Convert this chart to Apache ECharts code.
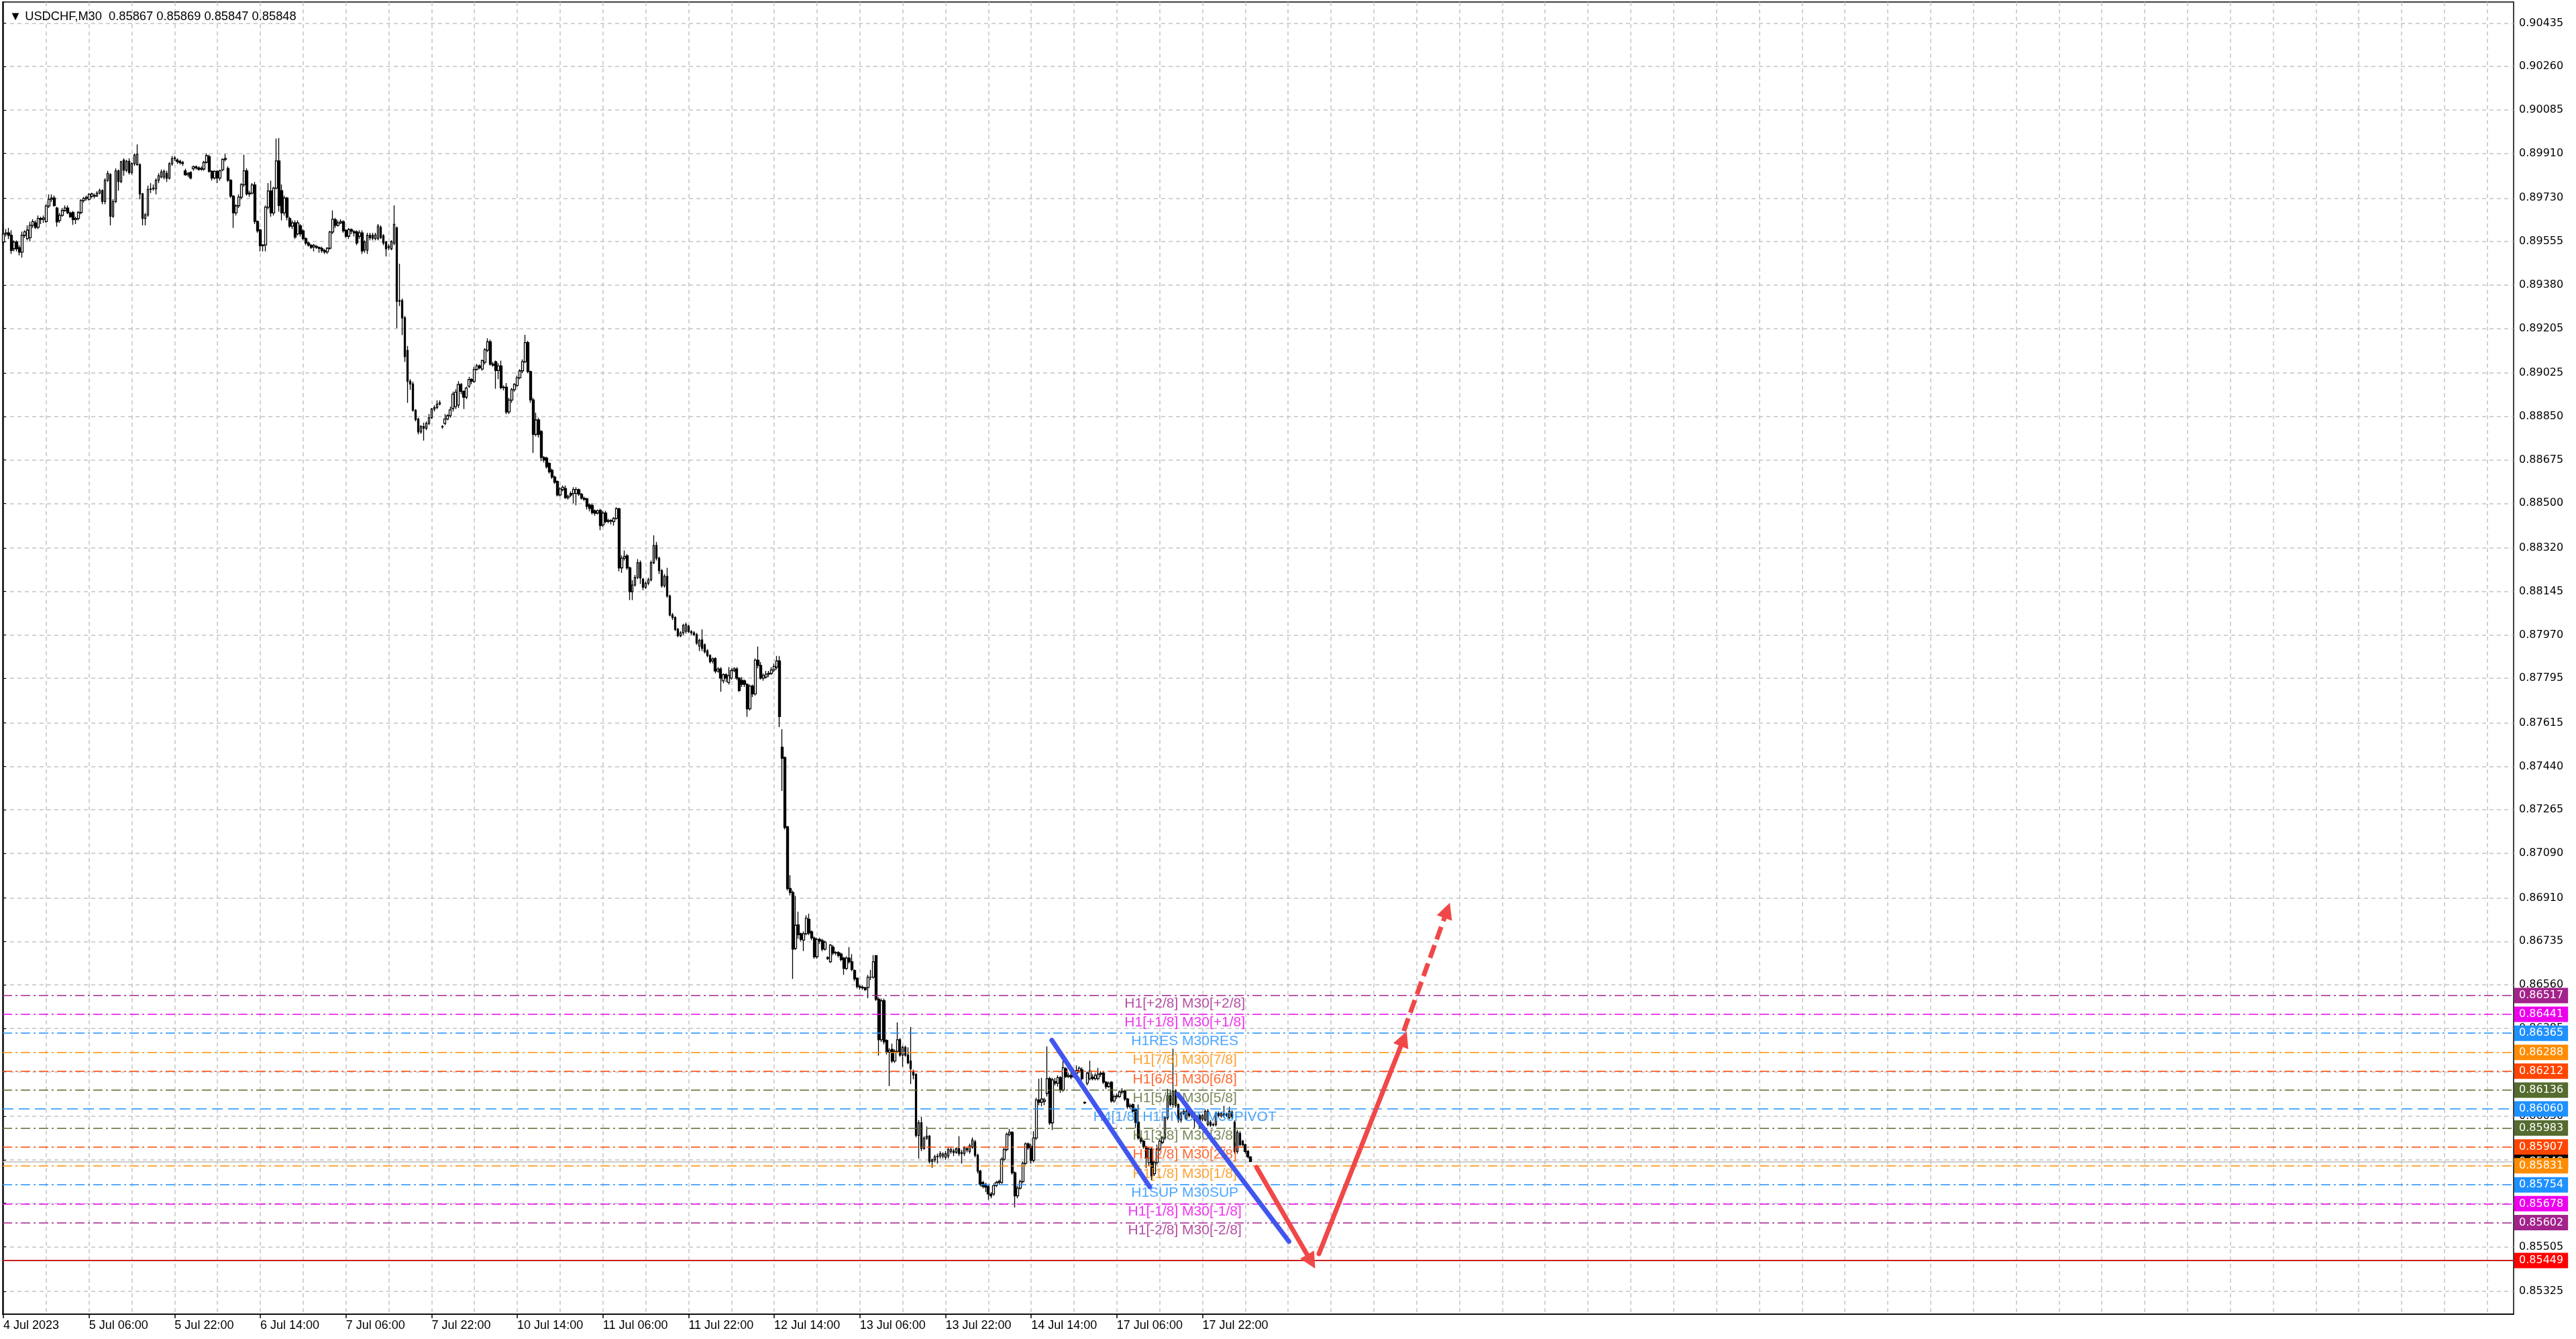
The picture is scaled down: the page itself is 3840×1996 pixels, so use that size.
<!DOCTYPE html>
<html><head><meta charset="utf-8">
<script src="https://cdn.jsdelivr.net/npm/echarts@6/dist/echarts.min.js"></script>
<style>html,body{margin:0;padding:0;background:#fff}#c{width:3840px;height:1996px}</style>
</head><body><div id="c"></div>
<script>
// ---------- DATA ----------
const symbolName = 'USDCHF,M30';
const lastOHLC = ['0.85867', '0.85869', '0.85847', '0.85848'];
const xTickLabels = ['4 Jul 2023','5 Jul 06:00','5 Jul 22:00','6 Jul 14:00','7 Jul 06:00','7 Jul 22:00','10 Jul 14:00','11 Jul 06:00','11 Jul 22:00','12 Jul 14:00','13 Jul 06:00','13 Jul 22:00','14 Jul 14:00','17 Jul 06:00','17 Jul 22:00'];
const yTickLabels = ['0.90435','0.90260','0.90085','0.89910','0.89730','0.89555','0.89380','0.89205','0.89025','0.88850','0.88675','0.88500','0.88320','0.88145','0.87970','0.87795','0.87615','0.87440','0.87265','0.87090','0.86910','0.86735','0.86560','0.86385','0.86210','0.86030','0.85855','0.85680','0.85505','0.85325'];
// M30 bars: [open, close, low, high] in units of 0.00001
const bars = [
[89553,89585,89540,89630],[89585,89590,89575,89605],[89590,89580,89565,89610],[89580,89519,89505,89600],[89526,89553,89515,89560],
[89553,89526,89515,89560],[89530,89512,89499,89540],[89512,89580,89490,89595],[89580,89594,89570,89600],[89567,89601,89560,89620],
[89570,89620,89555,89635],[89620,89635,89610,89645],[89630,89612,89605,89640],[89612,89648,89605,89660],[89648,89644,89625,89655],
[89644,89650,89630,89660],[89635,89698,89630,89705],[89698,89725,89690,89745],[89725,89730,89715,89745],[89730,89700,89695,89740],
[89690,89634,89615,89695],[89640,89660,89630,89670],[89660,89680,89655,89690],[89680,89690,89675,89700],[89690,89670,89665,89700],
[89670,89655,89650,89675],[89672,89643,89622,89678],[89643,89648,89625,89655],[89648,89672,89640,89678],[89672,89720,89665,89725],
[89720,89729,89712,89735],[89729,89733,89720,89740],[89725,89745,89720,89750],[89737,89747,89730,89752],[89740,89738,89730,89748],
[89738,89750,89735,89758],[89750,89760,89745,89768],[89760,89716,89705,89765],[89716,89802,89705,89810],[89802,89829,89795,89840],
[89825,89657,89620,89830],[89657,89716,89650,89725],[89716,89840,89710,89850],[89840,89797,89760,89845],[89797,89876,89790,89880],
[89883,89842,89820,89890],[89842,89878,89835,89885],[89878,89833,89825,89890],[89833,89869,89825,89875],[89869,89903,89860,89910],
[89865,89906,89860,89946],[89865,89747,89725,89870],[89747,89648,89620,89750],[89648,89662,89620,89670],[89662,89765,89655,89780],
[89765,89767,89750,89790],[89767,89770,89760,89785],[89767,89802,89745,89810],[89802,89820,89790,89830],[89815,89835,89810,89845],
[89815,89838,89805,89845],[89830,89810,89795,89840],[89810,89868,89805,89875],[89868,89889,89860,89900],[89889,89892,89880,89900],
[89884,89878,89868,89890],[89878,89873,89865,89885],[89873,89870,89860,89880],[89840,89824,89820,89848],[89824,89830,89815,89835],
[89833,89811,89805,89838],[89848,89856,89840,89862],[89856,89852,89845,89862],[89852,89846,89840,89858],[89846,89850,89840,89858],
[89847,89874,89840,89880],[89874,89901,89870,89910],[89897,89838,89832,89905],[89838,89811,89800,89842],[89811,89838,89805,89842],
[89838,89811,89790,89842],[89811,89840,89800,89845],[89844,89886,89838,89890],[89886,89890,89878,89908],[89849,89802,89795,89858],
[89802,89738,89730,89806],[89738,89670,89610,89742],[89670,89699,89660,89705],[89699,89734,89690,89745],[89734,89784,89725,89790],
[89784,89840,89775,89905],[89840,89747,89740,89850],[89747,89750,89735,89760],[89750,89783,89745,89790],[89783,89636,89625,89795],
[89636,89598,89590,89640],[89602,89538,89515,89605],[89538,89541,89515,89545],[89541,89693,89515,89700],[89693,89759,89685,89790],
[89759,89670,89655,89800],[89670,89770,89660,89775],[89770,89880,89765,89970],[89880,89700,89675,89972],[89760,89670,89640,89785],
[89670,89730,89660,89740],[89730,89653,89640,89735],[89648,89617,89610,89655],[89617,89630,89605,89640],[89630,89573,89565,89640],
[89586,89630,89580,89640],[89618,89586,89575,89625],[89598,89567,89560,89605],[89567,89549,89540,89572],[89549,89540,89535,89555],
[89540,89531,89525,89545],[89533,89540,89515,89545],[89535,89531,89525,89540],[89531,89527,89510,89535],[89527,89518,89510,89535],
[89518,89513,89505,89525],[89513,89528,89505,89532],[89528,89593,89522,89598],[89593,89645,89585,89680],[89643,89620,89610,89650],
[89620,89630,89615,89640],[89630,89635,89625,89645],[89635,89598,89590,89640],[89600,89576,89570,89605],[89576,89603,89565,89610],
[89603,89597,89585,89608],[89595,89590,89575,89600],[89594,89549,89540,89600],[89576,89590,89565,89600],[89590,89517,89505,89600],
[89521,89553,89510,89560],[89520,89580,89505,89590],[89580,89570,89560,89590],[89580,89568,89560,89590],[89567,89581,89560,89590],
[89567,89617,89560,89625],[89612,89571,89565,89620],[89578,89549,89540,89585],[89553,89526,89495,89558],[89530,89536,89520,89545],
[89526,89555,89520,89560],[89548,89624,89540,89700],[89610,89314,89206,89615],[89314,89317,89295,89465],[89317,89247,89178,89325],
[89247,89091,89070,89255],[89116,88992,88905,89134],[88992,88981,88957,89000],[88981,88875,88870,88990],[88875,88838,88830,88880],
[88840,88788,88778,88845],[88788,88810,88780,88815],[88810,88803,88753,88825],[88803,88822,88795,88830],[88822,88845,88815,88860],
[88845,88880,88840,88885],[88880,88886,88870,88895],[88886,88900,88880,88915],[88900,88905,88895,88915],[88810,88808,88800,88815],
[88822,88840,88815,88860],[88840,88853,88835,88860],[88853,88877,88845,88890],[88882,88940,88870,88950],[88889,88948,88880,88960],
[88896,88979,88885,88992],[88979,88951,88940,88985],[88951,88928,88880,88955],[88928,88965,88920,88970],[88972,88999,88965,89010],
[88999,88992,88980,89005],[88992,89040,88985,89050],[89040,89054,89035,89062],[89054,89046,89040,89060],[89041,89075,89035,89080],
[89068,89119,89060,89125],[89117,89151,89110,89165],[89151,89061,89055,89160],[89061,89057,89050,89070],[89071,89035,88962,89075],
[89035,89054,89000,89065],[89054,88966,88960,89075],[88966,88968,88955,88975],[88968,88868,88860,88985],[88868,88916,88860,88925],
[88916,88958,88905,88965],[88958,88979,88950,88985],[88975,89006,88970,89015],[89006,89034,89000,89040],[89034,89071,89025,89080],
[89071,89148,89065,89179],[89148,89031,89025,89155],[89031,88917,88905,89035],[88917,88778,88703,88925],[88778,88836,88770,88865],
[88836,88778,88765,88845],[88790,88685,88670,88795],[88685,88675,88665,88690],[88682,88647,88640,88688],[88661,88627,88620,88665],
[88633,88606,88598,88640],[88606,88585,88578,88612],[88588,88534,88528,88592],[88534,88558,88528,88565],[88555,88565,88548,88572],
[88560,88523,88518,88572],[88523,88528,88515,88535],[88540,88533,88525,88548],[88540,88556,88500,88565],[88540,88556,88492,88565],
[88555,88537,88530,88560],[88537,88521,88515,88542],[88521,88516,88510,88527],[88519,88488,88475,88522],[88494,88480,88468,88500],
[88492,88463,88455,88500],[88470,88460,88450,88475],[88461,88470,88455,88475],[88472,88410,88392,88478],[88413,88461,88405,88470],
[88461,88427,88420,88470],[88427,88431,88420,88438],[88431,88428,88415,88436],[88426,88440,88410,88445],[88440,88478,88435,88485],
[88478,88240,88226,88482],[88240,88279,88220,88290],[88279,88286,88270,88310],[88289,88240,88232,88295],[88240,88144,88110,88245],
[88144,88171,88110,88190],[88171,88202,88165,88212],[88202,88261,88195,88275],[88261,88199,88175,88270],[88194,88162,88150,88200],
[88162,88178,88155,88185],[88178,88192,88170,88200],[88192,88261,88185,88270],[88261,88330,88255,88371],[88330,88279,88270,88345],
[88279,88229,88215,88285],[88229,88168,88160,88235],[88168,88206,88160,88215],[88206,88127,88120,88240],[88127,88050,88045,88132],
[88050,88040,88030,88058],[88040,87992,87985,88045],[87992,87967,87960,87998],[87967,87978,87960,87985],[87978,88008,87970,88015],
[87985,88011,87975,88020],[88005,87983,87978,88010],[87983,87978,87970,87990],[87978,87971,87965,87985],[87971,87937,87930,87978],
[87925,87948,87905,87955],[87950,87916,87905,87992],[87930,87902,87895,87935],[87906,87887,87880,87912],[87887,87862,87855,87892],
[87865,87873,87855,87880],[87875,87824,87815,87880],[87824,87832,87818,87840],[87833,87796,87741,87840],[87785,87810,87775,87815],
[87810,87796,87780,87815],[87778,87806,87770,87840],[87796,87826,87790,87835],[87826,87833,87820,87840],[87833,87796,87788,87840],
[87796,87746,87740,87800],[87787,87771,87760,87800],[87785,87771,87760,87790],[87771,87672,87640,87775],[87672,87764,87665,87770],
[87764,87732,87720,87770],[87732,87868,87725,87875],[87868,87847,87835,87923],[87847,87796,87790,87860],[87796,87806,87785,87815],
[87800,87812,87795,87825],[87812,87815,87800,87825],[87815,87829,87808,87840],[87829,87843,87820,87855],[87840,87865,87830,87885],
[87865,87641,87598,87885],[87517,87473,87341,87590],[87476,87194,87186,87480],[87197,86948,86940,87200],[86948,86932,86920,87002],
[86932,86704,86584,86940],[86707,86800,86700,86918],[86802,86762,86745,86855],[86766,86743,86735,86770],[86740,86766,86696,86775],
[86766,86828,86760,86840],[86824,86769,86760,86847],[86774,86749,86740,86780],[86748,86673,86665,86755],[86673,86743,86665,86750],
[86743,86736,86725,86750],[86738,86704,86695,86745],[86704,86732,86698,86738],[86666,86670,86660,86675],[86653,86720,86648,86725],
[86712,86688,86680,86720],[86688,86690,86680,86695],[86690,86678,86670,86695],[86684,86662,86655,86690],[86668,86626,86600,86672],
[86626,86668,86620,86675],[86668,86653,86645,86712],[86653,86622,86615,86684],[86618,86584,86575,86622],[86587,86553,86545,86590],
[86553,86550,86540,86560],[86550,86548,86540,86558],[86548,86541,86535,86552],[86549,86591,86506,86600],[86591,86591,86580,86620],
[86591,86653,86585,86680],[86678,86502,86495,86680],[86502,86339,86275,86510],[86339,86496,86330,86505],[86496,86331,86320,86505],
[86336,86289,86280,86340],[86289,86297,86152,86305],[86300,86253,86245,86323],[86253,86292,86245,86300],[86292,86339,86285,86409],
[86339,86277,86270,86345],[86277,86308,86230,86315],[86308,86277,86270,86315],[86277,86246,86240,86308],[86253,86222,86160,86390],
[86212,86196,86180,86218],[86199,85953,85945,86205],[85953,86004,85860,86015],[86004,85901,85890,86028],[85901,85942,85895,85950],
[85942,85950,85935,85989],[85950,85849,85840,85955],[85849,85855,85823,85860],[85855,85867,85845,85875],[85867,85870,85840,85880],
[85870,85880,85860,85890],[85870,85878,85860,85885],[85865,85880,85855,85890],[85870,85896,85860,85905],[85888,85896,85880,85905],
[85890,85885,85870,85900],[85885,85900,85880,85905],[85900,85880,85870,85950],[85880,85885,85840,85895],[85880,85903,85870,85910],
[85900,85895,85885,85905],[85888,85911,85880,85920],[85905,85935,85900,85945],[85927,85873,85865,85935],[85873,85810,85800,85880],
[85810,85756,85748,85815],[85764,85748,85740,85770],[85756,85745,85725,85762],[85748,85717,85694,85752],[85717,85710,85700,85725],
[85717,85751,85710,85760],[85751,85764,85745,85770],[85764,85768,85755,85775],[85764,85857,85758,85865],[85857,85896,85850,85905],
[85896,85958,85890,85965],[85958,85966,85950,85980],[85966,85803,85795,85970],[85803,85710,85663,85808],[85710,85741,85700,85750],
[85741,85767,85735,85775],[85767,85841,85760,85848],[85841,85919,85835,85925],[85919,85904,85895,85925],[85909,85853,85840,85920],
[85853,85943,85845,85970],[85943,86096,85935,86105],[86096,86087,86075,86182],[86087,86100,86070,86185],[86090,86096,86075,86105],
[86123,86182,86110,86312],[86182,86004,85995,86190],[86004,86177,85975,86185],[86170,86164,86155,86185],[86164,86186,86150,86195],
[86186,86136,86125,86192],[86136,86226,86130,86254],[86222,86190,86185,86228],[86190,86195,86185,86205],[86195,86188,86180,86210],
[86192,86198,86185,86205],[86204,86215,86195,86236],[86213,86224,86205,86232],[86218,86182,86175,86228],[86087,86084,86080,86090],
[86164,86204,86155,86210],[86182,86213,86175,86254],[86188,86182,86175,86200],[86182,86195,86175,86205],[86182,86200,86175,86226],
[86200,86204,86190,86212],[86204,86168,86160,86210],[86168,86150,86140,86172],[86150,86164,86145,86170],[86168,86092,86085,86172],
[86092,86110,86085,86118],[86110,86114,86100,86122],[86110,86128,86105,86135],[86128,86132,86120,86144],[86132,86100,86092,86138],
[86100,86069,86060,86104],[86069,86074,86060,86082],[86078,86051,86045,86082],[86060,86006,85984,86064],[86006,85943,85935,86078],
[85943,85930,85920,85950],[85930,85907,85900,85935],[85907,85862,85822,85912],[85844,85898,85830,85905],[85898,85790,85772,85905],
[85799,85844,85790,85850],[85844,85898,85835,85916],[85898,85930,85890,85936],[85925,85943,85918,85950],[85943,86024,85935,86030],
[86024,86114,86015,86141],[86114,86078,86070,86135],[86078,86132,86065,86303],[86132,86074,86065,86140],[86078,86015,86005,86082],
[86015,86042,86005,86050],[86042,86051,86035,86058],[86020,86051,86015,86060],[86051,86033,86025,86058],[86033,86042,86025,86050],
[86042,86015,85984,86048],[86015,86029,86010,86035],[86033,85988,85980,86040],[86020,86033,86010,86040],[86015,86051,86010,86058],
[85997,86051,85990,86060],[86006,85995,85988,86015],[85995,85997,85990,86005],[85997,86042,85990,86050],[86042,86033,86025,86050],
[86033,86040,86025,86048],[86040,86035,86025,86073],[86035,86038,86028,86045],[86024,86051,86018,86069],[86047,86030,86020,86055],
[86006,85889,85880,86015],[85889,85966,85880,85975],[85961,85916,85910,85970],[85930,85916,85910,85935],[85916,85889,85880,85920],
[85889,85867,85860,85895],[85867,85848,85847,85869]
];
const levelValues = [0.86517,0.86441,0.86365,0.86288,0.86212,0.86136,0.86060,0.85983,0.85907,0.85831,0.85754,0.85678,0.85602];
const levelNames = ['H1[+2/8] M30[+2/8]','H1[+1/8] M30[+1/8]','H1RES M30RES','H1[7/8] M30[7/8]','H1[6/8] M30[6/8]','H1[5/8] M30[5/8]','H4[1/8] H1PIVOT M30PIVOT','H1[3/8] M30[3/8]','H1[2/8] M30[2/8]','H1[1/8] M30[1/8]','H1SUP M30SUP','H1[-1/8] M30[-1/8]','H1[-2/8] M30[-2/8]'];
const stopLevel = 0.85449;
const currentPrice = 0.85848;
// drawn objects, in (bar index, price)
const trendLines = [[[391.7,0.86337],[428.3,0.85746]],[[438.8,0.86119],[480.3,0.85526]]];
const arrowsSolid = [[[468.2,0.85825],[488.6,0.85445]],[[491.5,0.85476],[523.2,0.86343]]];
const arrowsDashed = [[[523.2,0.86374],[539.4,0.86860]]];

// ---------- STYLE / LAYOUT ----------
const levelColors = ['#A3228C','#EE00EE','#1E90FF','#FF8C00','#FF4500','#556B2F','#1E90FF','#556B2F','#FF4500','#FF8C00','#1E90FF','#EE00EE','#A3228C'];
const BARS_PER_LABEL = 32, BARS_PER_GRID = 16;
const X_MIN = -0.25, X_MAX = 937.85, Y_MIN = 0.85233, Y_MAX = 0.90520;
const LABEL_BAR = 441.4;
const axisFont = 'DejaVu Sans, Verdana, sans-serif';
const textFont = 'Liberation Sans, Arial, sans-serif';

const xTickValues = xTickLabels.map((_, i) => i * BARS_PER_LABEL);
const xGridValues = [];
for (let v = BARS_PER_GRID; v < X_MAX; v += BARS_PER_GRID) xGridValues.push(v);
const yTickValues = yTickLabels.map(s => parseFloat(s));
const candleData = bars.map((b, i) => [i, b[0] / 1e5, b[1] / 1e5, b[2] / 1e5, b[3] / 1e5]);

const boxLabel = (bg) => ({
  show: true, position: 'end', distance: 1, color: '#fff', backgroundColor: bg,
  padding: [4, 7, 3, 7], fontSize: 16, fontFamily: axisFont,
  formatter: p => Number(p.value).toFixed(5)
});

const levelMarkData = levelValues.map((v, i) => ({
  yAxis: v,
  lineStyle: { color: levelColors[i], width: 1.5, type: i === 6 ? [16, 8] : [14, 5, 3, 5] },
  label: boxLabel(levelColors[i])
}));
levelMarkData.push({ yAxis: stopLevel, lineStyle: { color: '#C8201E', width: 1.8, type: 'solid' }, label: boxLabel('#FF0000') });

const chart = echarts.init(document.getElementById('c'), null, { renderer: 'canvas' });
chart.setOption({
  animation: false,
  backgroundColor: '#ffffff',
  title: {
    text: '\u25BC ' + symbolName + '  ' + lastOHLC.join(' '),
    left: 9, top: 11,
    textStyle: { fontSize: 18.3, fontWeight: 'normal', color: '#000', fontFamily: 'Liberation Sans, DejaVu Sans, sans-serif' }
  },
  grid: { left: 4, right: 93, top: 3, bottom: 37, show: true, borderColor: '#000', borderWidth: 1.5, backgroundColor: 'transparent' },
  xAxis: [{
    type: 'value', min: X_MIN, max: X_MAX, position: 'bottom',
    axisLine: { show: true, lineStyle: { color: '#000', width: 1.5 } },
    axisTick: { show: true, length: 6, lineStyle: { color: '#000', width: 1.5 }, customValues: xTickValues },
    axisLabel: { show: true, customValues: xTickValues, align: 'left', margin: 8, fontSize: 18, color: '#000', fontFamily: textFont,
      formatter: v => xTickLabels[Math.round(v / BARS_PER_LABEL)] || '' },
    splitLine: { show: false }
  }, {
    type: 'value', min: X_MIN, max: X_MAX, position: 'bottom',
    axisLine: { show: false }, axisLabel: { show: false },
    axisTick: { show: false, customValues: xGridValues },
    splitLine: { show: true, lineStyle: { color: '#c4c4c4', width: 1.5, type: [6, 5] } }
  }],
  yAxis: {
    type: 'value', min: Y_MIN, max: Y_MAX, position: 'right', scale: true,
    axisLine: { show: true, lineStyle: { color: '#000', width: 1.5 } },
    axisTick: { show: true, length: 4, inside: false, lineStyle: { color: '#000' }, customValues: yTickValues },
    axisLabel: { show: true, customValues: yTickValues, margin: 8, fontSize: 16, color: '#000', fontFamily: axisFont,
      formatter: v => { let best = 0; yTickValues.forEach((t, i) => { if (Math.abs(t - v) < Math.abs(yTickValues[best] - v)) best = i; }); return yTickLabels[best]; } },
    splitLine: { show: true, lineStyle: { color: '#c4c4c4', width: 1.5, type: [6, 5] } }
  },
  series: [
    {
      type: 'candlestick', name: symbolName, xAxisIndex: 0,
      data: candleData, encode: { x: 0, y: [1, 2, 3, 4] },
      dimensions: ['bar', 'open', 'close', 'lowest', 'highest'],
      barWidth: 3.2, silent: true, z: 3,
      itemStyle: { color: '#ffffff', color0: '#000000', borderColor: '#000000', borderColor0: '#000000', borderWidth: 1.3 },
      markLine: {
        silent: true, symbol: 'none', animation: false, z: 1, precision: 5,
        data: [{ yAxis: currentPrice, lineStyle: { color: '#bdbdbd', width: 1.5, type: 'solid' }, label: boxLabel('#000000') }]
      }
    },
    {
      type: 'scatter', name: 'levels', xAxisIndex: 0, silent: true, z: 4,
      symbolSize: 0.1, itemStyle: { color: 'rgba(0,0,0,0)' },
      data: levelValues.map((v, i) => ({ value: [LABEL_BAR, v], label: { color: levelColors[i], formatter: levelNames[i] } })),
      label: { show: true, position: 'inside', offset: [0, 12], fontSize: 21, fontFamily: textFont },
      markLine: { silent: true, symbol: 'none', animation: false, precision: 5, data: levelMarkData }
    },
    {
      type: 'lines', coordinateSystem: 'cartesian2d', xAxisIndex: 0, silent: true, z: 6,
      symbol: 'none',
      lineStyle: { color: '#4156EE', width: 7, cap: 'round', opacity: 1 },
      data: trendLines.map(c => ({ coords: c }))
    },
    {
      type: 'lines', coordinateSystem: 'cartesian2d', xAxisIndex: 0, silent: true, z: 7,
      symbol: ['none', 'triangle'], symbolSize: [0, 24],
      lineStyle: { color: '#F04848', width: 7, cap: 'round', opacity: 1 },
      data: arrowsSolid.map(c => ({ coords: c }))
    },
    {
      type: 'lines', coordinateSystem: 'cartesian2d', xAxisIndex: 0, silent: true, z: 7,
      symbol: ['none', 'triangle'], symbolSize: [0, 24],
      lineStyle: { color: '#F04848', width: 7, type: [20, 9], opacity: 1 },
      data: arrowsDashed.map(c => ({ coords: c }))
    }
  ]
});
</script>
</body></html>
